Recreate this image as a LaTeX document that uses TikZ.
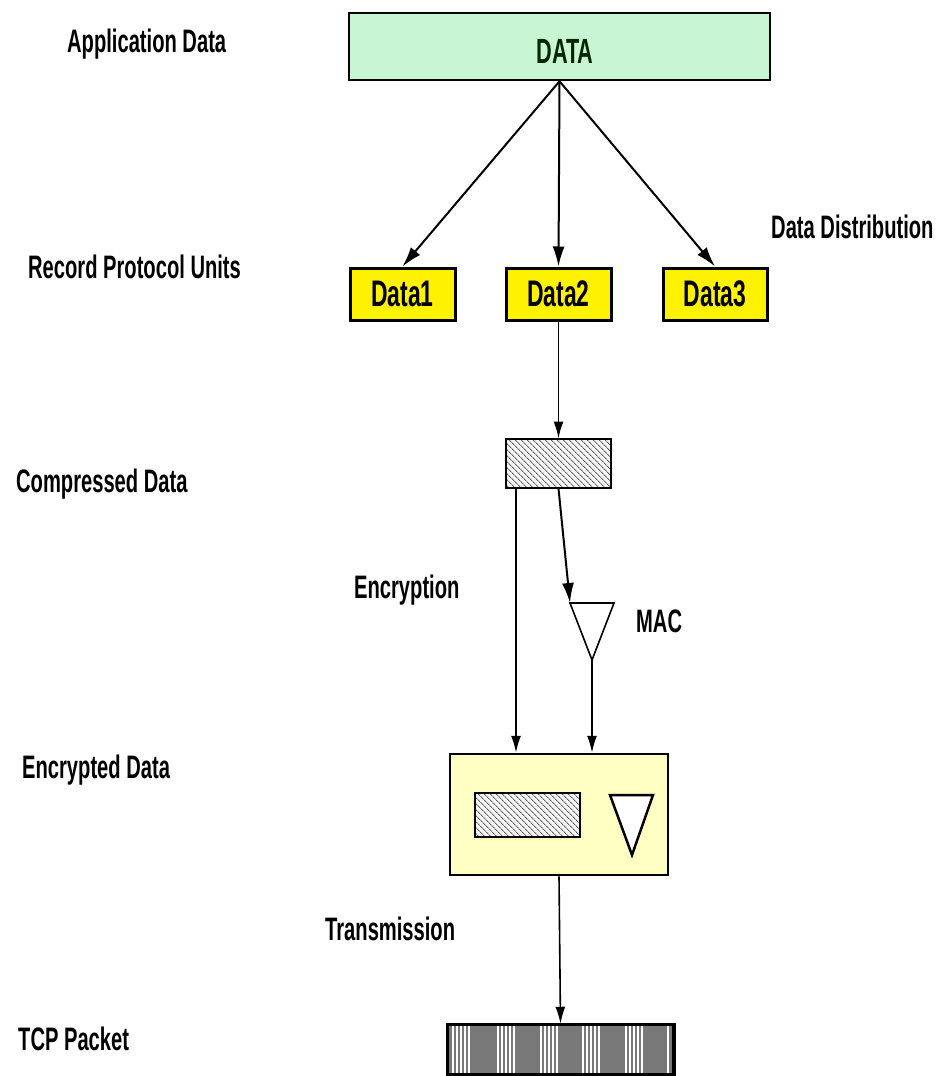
\documentclass[tikz,border=0pt]{standalone}
\usepackage{fontspec}
\newfontfamily\lbl{Liberation Sans}[FakeStretch=0.62]
\usetikzlibrary{arrows.meta,patterns.meta,calc}
\definecolor{dgreen}{RGB}{200,246,212}
\definecolor{pyellow}{RGB}{255,255,196}
\definecolor{tcpgray}{RGB}{120,120,120}
\begin{document}
\begin{tikzpicture}[x=1pt,y=-1pt,
  lab/.style={font={\lbl\bfseries\fontsize{32.5}{36}\selectfont}, inner sep=0pt, anchor=base west},
  boxtext/.style={font={\lbl\bfseries\fontsize{37}{40}\selectfont}, inner sep=0pt},
  unit/.style={draw=black, line width=3pt, fill=yellow, minimum width=105pt, minimum height=52pt, inner sep=0pt, boxtext},
  arr/.style={line width=2pt, -{Latex[length=20pt,width=12pt]}},
  thin arr/.style={line width=1.6pt, -{Latex[length=17pt,width=10pt]}},
  hatch/.style={preaction={fill=gray!8}, pattern={Lines[angle=-45,distance=4pt,line width=1pt]}, pattern color=gray!75!black}
]
\useasboundingbox (0,0) rectangle (937,1076);

% labels
\node[lab] (lAppl) at (67,52) {Application Data};
\node[lab] (lRec) at (28,278) {Record Protocol Units};
\node[lab] (lDist) at (771,238) {Data Distribution};
\node[lab] (lComp) at (16,492) {Compressed Data};
\node[lab] (lEncr) at (354,598) {Encryption};
\node[lab] (lMac) at (636,632) {MAC};
\node[lab] (lEncd) at (22,778) {Encrypted Data};
\node[lab] (lTrans) at (325,940) {Transmission};
\node[lab] (lTcp) at (18,1050) {TCP Packet};

% top data box
\node[draw=black, line width=2.5pt, fill=dgreen, minimum width=421pt, minimum height=67pt, inner sep=0pt] (data) at (559.5,46.5) {};
\node[font={\lbl\bfseries\fontsize{35}{38}\selectfont}, inner sep=0pt, anchor=base, text=black!85!green] (dataT) at (565,63) {DATA};

% record units
\node[unit] (d1) at (402.5,294) {Data1};
\node[unit] (d2) at (558.5,294) {Data2};
\node[unit, minimum width=104pt] (d3) at (715,294) {Data3};

\draw[arr] (data.south) -- (d1.north);
\draw[arr] (data.south) -- (d2.north);
\draw[arr] (data.south) -- (d3.north);

% compressed
\node[draw=black, line width=2.5pt, hatch, minimum width=105pt, minimum height=49pt, inner sep=0pt] (comp) at (558.5,463.5) {};
\draw[thin arr] (d2.south) -- (comp.north);

% MAC triangle
\coordinate (macL) at (570,603);
\coordinate (macR) at (614,603);
\coordinate (macA) at (592,660);
\draw[line width=1.6pt, line join=miter] (macL) -- (macR) -- (macA) -- cycle;

% encrypted box
\node[draw=black, line width=2.5pt, fill=pyellow, minimum width=218pt, minimum height=121pt, inner sep=0pt] (enc) at (559,814.5) {};
\node[draw=black, line width=2.5pt, hatch, minimum width=105pt, minimum height=44pt, inner sep=0pt] (encR) at (527.5,815) {};
\coordinate (eL) at (610,795);
\coordinate (eR) at (653,795);
\coordinate (eA) at (632,855);
\draw[line width=2.5pt, fill=white, line join=miter] (eL) -- (eR) -- (eA) -- cycle;

\coordinate (cL) at (516,488);
\draw[thin arr] (cL) -- (cL |- enc.north);
\draw[arr] (comp.south) -- (macL);
\draw[thin arr] (macA) -- (macA |- enc.north);

% TCP packet
\node[draw=black, line width=2.5pt, fill=tcpgray, minimum width=225pt, minimum height=49pt, inner sep=0pt] (tcp) at (560.5,1049.5) {};
\foreach \g in {452,497,540,582,625}{
  \foreach \k in {0,4,8,12,16}{
    \draw[white, line width=1.2pt] (\g+\k+1,1026) -- (\g+\k+1,1073);
  }
}
\draw[white, line width=1.2pt] (668,1026) -- (668,1073);
\draw[line width=2.5pt] (tcp.south west) rectangle (tcp.north east);
\draw[thin arr] (enc.south) -- (tcp.north);
\end{tikzpicture}
\end{document}
